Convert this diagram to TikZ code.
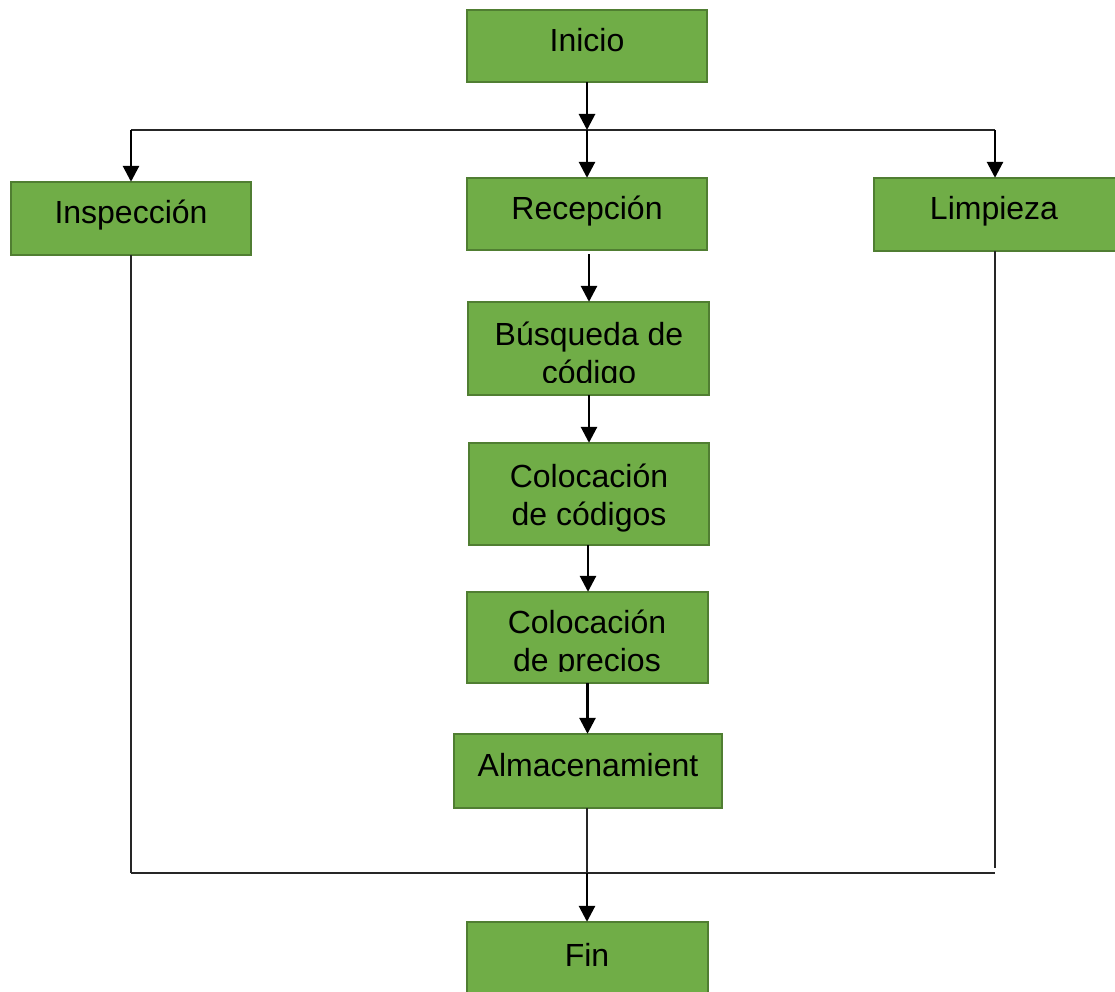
\documentclass[tikz,border=0pt]{standalone}
\usepackage{fontspec}
\setmainfont{Liberation Sans}
\usetikzlibrary{arrows.meta}
\definecolor{boxfill}{HTML}{70AD47}
\definecolor{boxline}{HTML}{507E32}
\begin{document}
\begin{tikzpicture}[x=1pt,y=-1pt,
  stepbox/.style={draw=boxline,fill=boxfill,line width=1.6pt},
  label/.style={inner sep=0pt,align=center,anchor=base,font=\fontsize{32}{38}\selectfont},
  flow/.style={line width=2.8pt,-{Triangle[width=16pt,length=16pt]}},
  thin/.style={line width=1.1pt,draw=black!85}]
\useasboundingbox (0,0) rectangle (1115,992);

% boxes: corner-to-corner, then the text on top
\newcommand{\stepnode}[5]{%
  \path[stepbox] (#2,#3) rectangle (#4,#5);
  \node[inner sep=0pt,minimum width=#4pt-#2pt,minimum height=#5pt-#3pt] (#1) at ({(#2+#4)/2},{(#3+#5)/2}) {};}

\stepnode{inicio}{467}{10}{707}{82}
\stepnode{insp}{11}{182}{251}{255}
\stepnode{recep}{467}{178}{707}{250}
\stepnode{limp}{874}{178}{1117}{251}
\stepnode{busq}{468}{302}{709}{395}
\stepnode{codigos}{469}{443}{709}{545}
\stepnode{precios}{467}{592}{708}{683}
\stepnode{alm}{454}{734}{722}{808}
\stepnode{fin}{467}{922}{708}{994}

\node[label] (inicio-t) at (587,52) {Inicio};
\node[label] (insp-t) at (131,224) {Inspección};
\node[label] (recep-t) at (587,220) {Recepción};
\node[label] (limp-t) at (994,220) {Limpieza};
\begin{scope}
  \clip (468,302) rectangle (709,382);
  \node[label] (busq-t) at (589,383) {Búsqueda de\\código};
\end{scope}
\node[label] (codigos-t) at (589,525) {Colocación\\de códigos};
\begin{scope}
  \clip (467,592) rectangle (708,671);
  \node[label] (precios-t) at (587,671) {Colocación\\de precios};
\end{scope}
\node[label] (alm-t) at (588,776) {Almacenamient};
\node[label] (fin-t) at (587,966) {Fin};

% branching and joining points
\coordinate (split) at (587,130);
\coordinate (join) at (587,873);
\coordinate (splitL) at (131,130);
\coordinate (splitR) at (995,130);
\coordinate (joinL) at (131,873);
\coordinate (joinR) at (995,873);
\coordinate (endR) at (995,868);

\draw[thin] (splitL) -- (splitR);
\draw[flow] (inicio.south) -- (split);
\draw[flow] (splitL) -- (insp.north);
\draw[flow] (split) -- (recep.north);
\draw[flow] (splitR) -- (limp.north -| splitR);

\draw[flow] ([xshift=2pt,yshift=-4pt]recep.south) -- ([xshift=2pt]recep.south |- busq.north);
\draw[flow] ([xshift=2pt]busq.south -| recep.south) -- ([xshift=2pt]codigos.north -| recep.south);
\draw[flow] ([xshift=1pt]codigos.south -| recep.south) -- ([xshift=1pt]precios.north -| recep.south);
\draw[flow] (precios.south) -- (alm.north -| precios.south);

\draw[thin] (insp.south) -- (joinL);
\draw[thin] (limp.south -| endR) -- (endR);
\draw[thin] (alm.south -| join) -- (join);
\draw[thin] (joinL) -- (joinR);
\draw[flow] (join) -- (fin.north -| join);
\end{tikzpicture}
\end{document}
